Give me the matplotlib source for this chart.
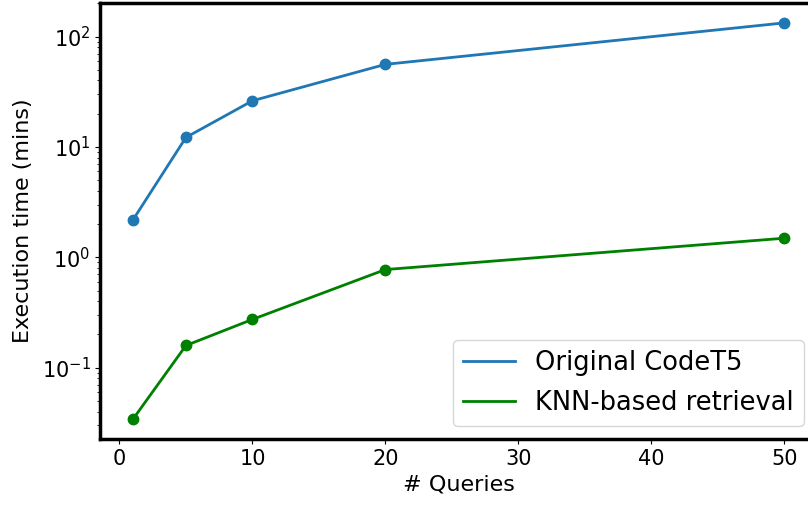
import matplotlib
matplotlib.use('Agg')
import matplotlib.pyplot as plt

# dados
n_queries = [1, 5, 10, 20, 50]
tempo_codet5 = [2.17, 12.2, 26.2, 56.0, 133.0]
tempo_knn = [0.034, 0.159, 0.274, 0.775, 1.49]

fig = plt.figure(figsize=(8.08, 5.09), dpi=100)
ax = fig.add_axes([0.124, 0.137, 0.887, 0.857])

ax.plot(n_queries, tempo_codet5, color='#1f77b4', lw=2, label='Original CodeT5')
ax.plot(n_queries, tempo_codet5, 'o', color='#1f77b4', ms=7.5)
ax.plot(n_queries, tempo_knn, color='green', lw=2, label='KNN-based retrieval')
ax.plot(n_queries, tempo_knn, 'o', color='green', ms=7.5)

ax.set_yscale('log')
ax.set_xlabel('# Queries', fontsize=16)
ax.set_ylabel('Execution time (mins)', fontsize=16, labelpad=6)
ax.tick_params(labelsize=15)
for s in ax.spines.values():
    s.set_linewidth(2.5)
# a borda direita fica fora da imagem no original
ax.spines['right'].set_visible(False)

ax.legend(loc='lower right', fontsize=18.5, labelspacing=0.55)

fig.savefig('out.png', dpi=100)
